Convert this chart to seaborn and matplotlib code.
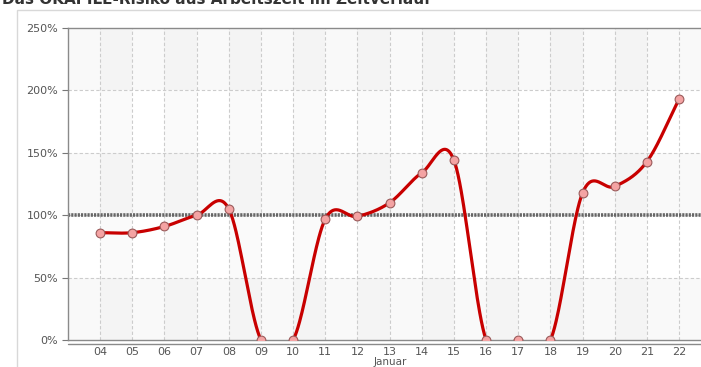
import numpy as np
import pandas as pd
import matplotlib
matplotlib.use("Agg")
import matplotlib.pyplot as plt
from matplotlib.lines import Line2D
from matplotlib.patches import Rectangle
import seaborn as sns

# ---- data ----
days = ["04", "05", "06", "07", "08", "09", "10", "11", "12", "13",
        "14", "15", "16", "17", "18", "19", "20", "21", "22"]
values = [86, 86, 91, 100, 105, 0, 0, 97, 99, 110,
          134, 144, 0, 0, 0, 118, 123, 143, 193]
y_ticks = [0, 50, 100, 150, 200, 250]
y_tick_labels = ["0%", "50%", "100%", "150%", "200%", "250%"]
reference_level = 100
title = "Das OKAPILE-Risiko aus Arbeitszeit im Zeitverlauf"
x_label = "Januar"

sns.set_style("white")
plt.rcParams["font.family"] = ["DejaVu Sans"]

fig = plt.figure(figsize=(7.01, 3.67), dpi=100)
W, H = 701, 367
ax = fig.add_axes([68 / W, 1 - 340 / H, (701 - 68) / W, (340 - 28) / H])

x = np.arange(len(days))
y = np.array(values, dtype=float)

# Catmull-Rom smoothing of the line (rendering only)
def catmull_rom(xs, ys, n=40):
    m = np.zeros_like(ys)
    m[1:-1] = (ys[2:] - ys[:-2]) / 2.0
    m[0] = ys[1] - ys[0]
    m[-1] = ys[-1] - ys[-2]
    px, py = [], []
    t = np.linspace(0, 1, n, endpoint=False)
    for i in range(len(xs) - 1):
        h00 = 2 * t**3 - 3 * t**2 + 1
        h10 = t**3 - 2 * t**2 + t
        h01 = -2 * t**3 + 3 * t**2
        h11 = t**3 - t**2
        py.append(h00 * ys[i] + h10 * m[i] + h01 * ys[i + 1] + h11 * m[i + 1])
        px.append(xs[i] + t * (xs[i + 1] - xs[i]))
    px.append([xs[-1]]); py.append([ys[-1]])
    return np.concatenate(px), np.concatenate(py)

sx, sy = catmull_rom(x.astype(float), y)

ax.set_xlim(-1, 18.68)
ax.set_ylim(0, 250)

# background bands
for lo in (0, 100, 200):
    ax.axhspan(lo, lo + 50, color="#000000", alpha=0.025, lw=0, zorder=0)
for i in range(0, len(days) - 1, 2):
    ax.axvspan(i, i + 1, color="#000000", alpha=0.02, lw=0, zorder=0)

# grid
for yt in y_ticks[1:-1]:
    ax.axhline(yt, color="#cccccc", lw=0.8, ls=(0, (3, 2)), zorder=1)
for xi in x:
    ax.axvline(xi, color="#cccccc", lw=0.8, ls=(0, (3, 2)), zorder=1)

# reference line
ax.axhline(reference_level, color="#666666", lw=2.6, ls=(0, (0.6, 0.3)), zorder=2)

line_df = pd.DataFrame({"x": sx, "y": sy})
sns.lineplot(data=line_df, x="x", y="y", ax=ax, color="#c80000", lw=2.3,
             sort=False, estimator=None, zorder=3)
pt_df = pd.DataFrame({"x": x, "y": y})
sns.scatterplot(data=pt_df, x="x", y="y", ax=ax, s=40, color="#f4a3a3",
                edgecolor="#9a5a5a", linewidth=0.8, zorder=4)

ax.set_xlabel("")
ax.set_ylabel("")
ax.set_xticks(x)
ax.set_xticklabels(days)
ax.set_xticks(np.arange(-0.5, len(days), 1.0), minor=True)
ax.tick_params(axis="x", which="major", length=0, pad=5, labelsize=8, labelcolor="#555555")
ax.tick_params(axis="x", which="minor", length=3, direction="out", color="#777777", width=0.8)
ax.set_yticks(y_ticks)
ax.set_yticklabels(y_tick_labels)
ax.tick_params(axis="y", length=4, direction="out", color="#777777", width=0.8,
               pad=3, labelsize=8, labelcolor="#555555")
ax.tick_params(bottom=True, left=True)

for s in ["left", "bottom", "top"]:
    ax.spines[s].set_visible(True)
    ax.spines[s].set_color("#8a8a8a")
    ax.spines[s].set_linewidth(1.0)
ax.spines["right"].set_visible(False)

# second line of the category axis
off = 4 / 312
ax.add_line(Line2D([0, 1], [-off, -off], transform=ax.transAxes, clip_on=False,
                   color="#8a8a8a", lw=1.0))

fig.text(390 / W, 1 - 362 / H, x_label, ha="center", va="center",
         fontsize=7.5, color="#555555")

# outer frame
fig.patches.append(Rectangle((17 / W, -0.1), 1.0, 1 - 10 / H + 0.1,
                             transform=fig.transFigure, fill=False,
                             edgecolor="#d8d8d8", lw=1.0))
fig.text(2 / W, 1 + 1 / H, title, ha="left", va="center", fontsize=11,
         fontweight="bold", color="#333333")

fig.savefig("out.png", dpi=100)
